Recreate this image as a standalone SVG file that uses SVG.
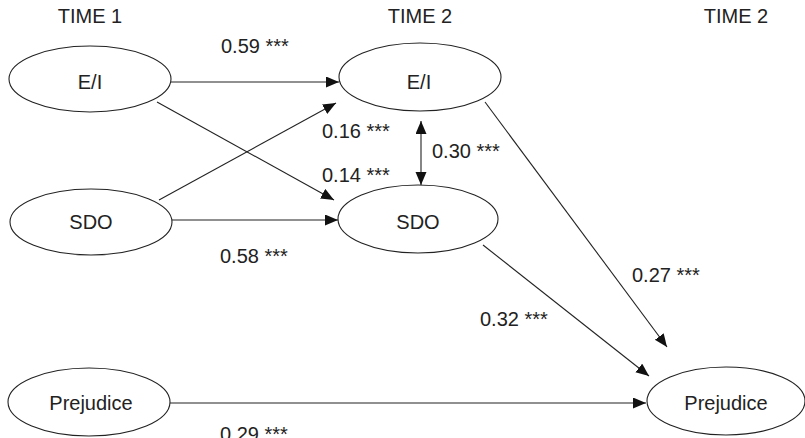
<svg xmlns="http://www.w3.org/2000/svg" width="805" height="438" viewBox="0 0 805 438">
<style>
text{font-family:"Liberation Sans",Arial,sans-serif;font-size:20px;fill:#222}
.n text{text-anchor:middle}
.n ellipse{fill:#fff;stroke:#222;stroke-width:1.1}
.c line{stroke:#222;stroke-width:1.1;fill:none}
</style>
<defs>
<marker id="ah" markerUnits="userSpaceOnUse" markerWidth="14" markerHeight="12" refX="13" refY="5.5" orient="auto-start-reverse">
<path d="M0,0 L13,5.5 L0,11 z" fill="#111"/>
</marker>
</defs>
<g id="headers">
<text x="90" y="23" text-anchor="middle">TIME 1</text>
<text x="420" y="23" text-anchor="middle">TIME 2</text>
<text x="736" y="23" text-anchor="middle">TIME 2</text>
</g>
<g id="connectors" class="c">
<line x1="171" y1="82" x2="339" y2="82" marker-end="url(#ah)"/>
<line x1="172" y1="220" x2="338" y2="220" marker-end="url(#ah)"/>
<line x1="157" y1="102" x2="334" y2="200" marker-end="url(#ah)"/>
<line x1="159" y1="200" x2="336" y2="103" marker-end="url(#ah)"/>
<line x1="421" y1="121" x2="421" y2="185" marker-start="url(#ah)" marker-end="url(#ah)"/>
<line x1="485" y1="102" x2="667" y2="347" marker-end="url(#ah)"/>
<line x1="483" y1="245" x2="649" y2="376" marker-end="url(#ah)"/>
<line x1="170" y1="403" x2="646" y2="403" marker-end="url(#ah)"/>
</g>
<g id="labels">
<text x="221" y="53">0.59 ***</text>
<text x="322" y="138">0.16 ***</text>
<text x="322" y="182">0.14 ***</text>
<text x="432" y="158">0.30 ***</text>
<text x="220" y="263">0.58 ***</text>
<text x="220" y="441">0.29 ***</text>
<text x="632" y="282">0.27 ***</text>
<text x="480" y="326">0.32 ***</text>
</g>
<g id="ei1" class="n"><ellipse cx="90" cy="79" rx="81" ry="33"/><text x="90" y="89">E/I</text></g>
<g id="sdo1" class="n"><ellipse cx="91" cy="222" rx="81" ry="33"/><text x="91" y="229">SDO</text></g>
<g id="prej1" class="n"><ellipse cx="89" cy="402" rx="81" ry="34"/><text x="91" y="410">Prejudice</text></g>
<g id="ei2" class="n"><ellipse cx="420" cy="77" rx="81" ry="34"/><text x="419" y="89">E/I</text></g>
<g id="sdo2" class="n"><ellipse cx="418" cy="219" rx="80" ry="34"/><text x="418" y="229">SDO</text></g>
<g id="prej2" class="n"><ellipse cx="726" cy="401" rx="79" ry="34"/><text x="726" y="410">Prejudice</text></g>
</svg>
